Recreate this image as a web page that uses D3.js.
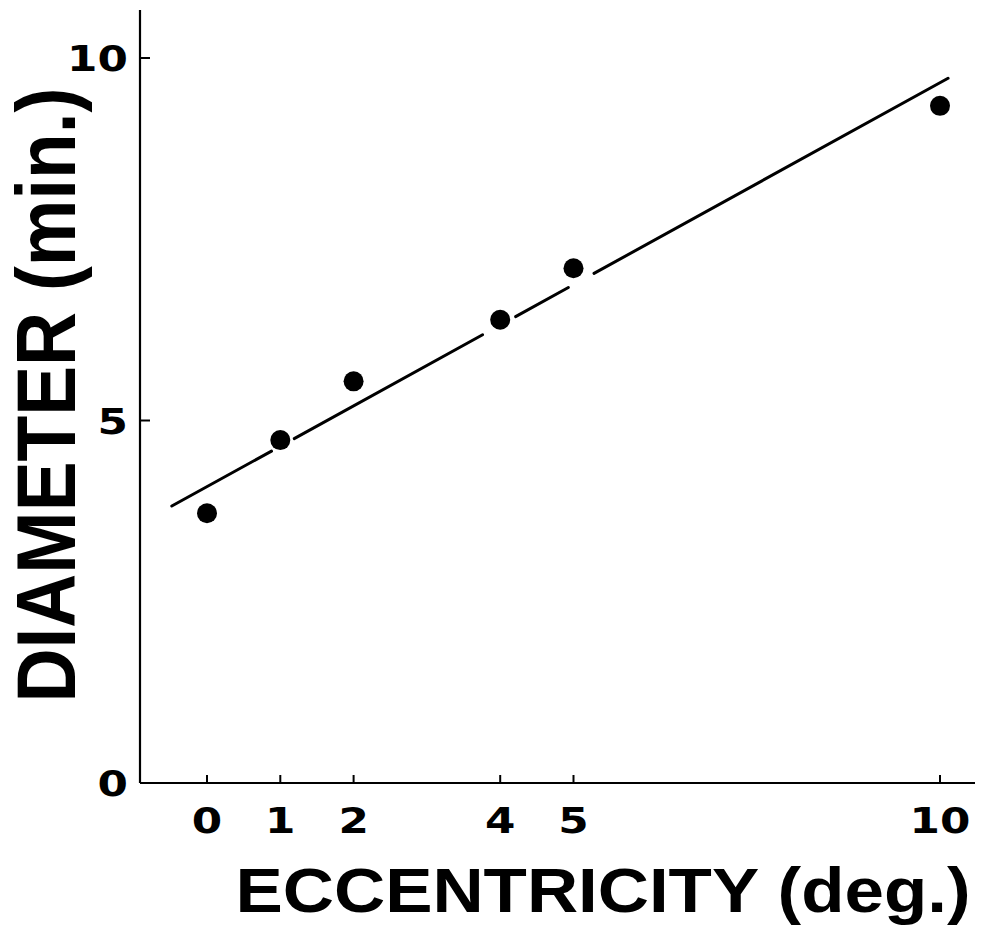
<!DOCTYPE html>
<html>
<head>
<meta charset="utf-8">
<script src="https://cdn.jsdelivr.net/npm/d3@7"></script>
<style>
  body { margin: 0; background: #ffffff; }
  svg  { display: block; }
</style>
</head>
<body>
<div id="graph"></div>
<script>
// The data...
var eccentricity = [ 0, 1, 2, 4, 5, 10 ];
var diameter     = [ 3.72, 4.73, 5.54, 6.39, 7.10, 9.34 ];

var xTickValues = [ 0, 1, 2, 4, 5, 10 ];
var yTickValues = [ 0, 5, 10 ];

// fitted line, drawn between these x values, broken around some points
var fitX   = [ -0.48, 10.11 ];
var fitY   = [ 3.82, 9.72 ];
var fitGaps = [ [ 0.88, 1.19 ], [ 3.76, 4.21 ], [ 4.93, 5.28 ] ];

var xTitle = 'ECCENTRICITY (deg.)';
var yTitle = 'DIAMETER (min.)';

var width  = 991;
var height = 930;

var svg = d3.select ('#graph').append ('svg')
            .attr ('width', width)
            .attr ('height', height);

var xScale = d3.scaleLinear ()
               .domain ([ 0, 10 ])
               .range ([ 207, 940 ]);

var yScale = d3.scaleLinear ()
               .domain ([ 0, 10 ])
               .range ([ 783, 58 ]);

var axisX0 = 140;     // where the y axis sits
var axisYTop = 10;
var axisXRight = 975;

// y axis line
svg.append ('line')
   .attr ('x1', axisX0).attr ('x2', axisX0)
   .attr ('y1', axisYTop).attr ('y2', yScale(0))
   .attr ('stroke', '#000').attr ('stroke-width', 2.2);

// x axis line
svg.append ('line')
   .attr ('x1', axisX0).attr ('x2', axisXRight)
   .attr ('y1', yScale(0)).attr ('y2', yScale(0))
   .attr ('stroke', '#000').attr ('stroke-width', 2.2);

// ticks point inward
svg.selectAll ('.ytick')
   .data (yTickValues.filter (function (d) { return d > 0; }))
   .enter ()
   .append ('line')
   .attr ('class', 'ytick')
   .attr ('x1', axisX0).attr ('x2', axisX0 + 10)
   .attr ('y1', function (d) { return yScale(d); })
   .attr ('y2', function (d) { return yScale(d); })
   .attr ('stroke', '#000').attr ('stroke-width', 2);

svg.selectAll ('.xtick')
   .data (xTickValues)
   .enter ()
   .append ('line')
   .attr ('class', 'xtick')
   .attr ('x1', function (d) { return xScale(d); })
   .attr ('x2', function (d) { return xScale(d); })
   .attr ('y1', yScale(0)).attr ('y2', yScale(0) - 8)
   .attr ('stroke', '#000').attr ('stroke-width', 2);

// tick labels (wide, squarish digits)
var tickFont = function (sel)
{
    sel.attr ('font-family', 'DejaVu Sans')
       .attr ('font-weight', 'bold')
       .attr ('font-size', '35px')
       .attr ('fill', '#000');
};

svg.selectAll ('.ylabel')
   .data (yTickValues)
   .enter ()
   .append ('text')
   .attr ('class', 'ylabel')
   .attr ('text-anchor', 'end')
   .attr ('transform', function (d) { return 'translate(' + (axisX0 - 12) + ',' + (yScale(d) + 13) + ') scale(1.25,1)'; })
   .text (function (d) { return d; })
   .call (tickFont);

svg.selectAll ('.xlabel')
   .data (xTickValues)
   .enter ()
   .append ('text')
   .attr ('class', 'xlabel')
   .attr ('text-anchor', 'middle')
   .attr ('transform', function (d) { return 'translate(' + xScale(d) + ',' + (yScale(0) + 50) + ') scale(1.25,1)'; })
   .text (function (d) { return d; })
   .call (tickFont);

// fitted line, split into pieces
var pieces = [];
var start = fitX[0];
fitGaps.forEach (function (g)
{
    pieces.push ([ start, g[0] ]);
    start = g[1];
});
pieces.push ([ start, fitX[1] ]);

var slope = (fitY[1] - fitY[0]) / (fitX[1] - fitX[0]);
var fitAt = function (x) { return fitY[0] + slope * (x - fitX[0]); };

svg.selectAll ('.fit')
   .data (pieces)
   .enter ()
   .append ('line')
   .attr ('class', 'fit')
   .attr ('x1', function (d) { return xScale(d[0]); })
   .attr ('y1', function (d) { return yScale(fitAt(d[0])); })
   .attr ('x2', function (d) { return xScale(d[1]); })
   .attr ('y2', function (d) { return yScale(fitAt(d[1])); })
   .attr ('stroke', '#000')
   .attr ('stroke-width', 3)
   .attr ('stroke-linecap', 'round');

// data points
svg.selectAll ('circle')
   .data (eccentricity)
   .enter ()
   .append ('circle')
   .attr ('cx', function (d) { return xScale(d); })
   .attr ('cy', function (d, i) { return yScale(diameter[i]); })
   .attr ('r', 10)
   .attr ('fill', '#000');

// axis titles
svg.append ('text')
   .attr ('x', 603)
   .attr ('y', 912)
   .attr ('text-anchor', 'middle')
   .attr ('font-family', 'Liberation Sans')
   .attr ('font-weight', 'bold')
   .attr ('font-size', '63px')
   .attr ('textLength', 735)
   .attr ('lengthAdjust', 'spacingAndGlyphs')
   .attr ('fill', '#000')
   .text (xTitle);

svg.append ('text')
   .attr ('transform', 'translate(75,395) rotate(-90)')
   .attr ('text-anchor', 'middle')
   .attr ('font-family', 'Liberation Sans')
   .attr ('font-weight', 'bold')
   .attr ('font-size', '84px')
   .attr ('textLength', 615)
   .attr ('lengthAdjust', 'spacingAndGlyphs')
   .attr ('fill', '#000')
   .text (yTitle);
</script>
</body>
</html>
